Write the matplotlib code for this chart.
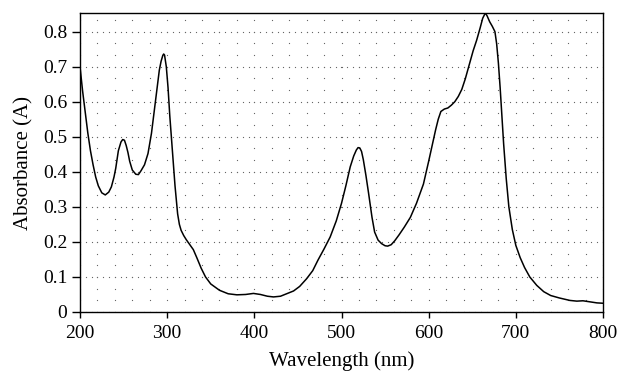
import matplotlib.pyplot as plt
import numpy as np

# spectrum
wavelength = [200, 203, 205, 209, 212, 215, 218, 221, 225, 229, 233, 236, 239, 241, 244, 247, 249,
              251, 253, 255, 257, 260, 264, 267, 270, 274, 278, 282, 285, 288, 291, 293, 295, 296,
              297, 299, 301, 303, 306, 309, 312, 314, 316, 319, 322, 326, 330, 334, 339, 344, 350,
              360, 370, 380, 390, 399, 407, 415, 422, 430, 437, 445, 452, 460, 467, 473, 480, 487,
              494, 500, 505, 510, 514, 517, 519, 521, 523, 525, 528, 531, 535, 538, 542, 546, 550,
              553, 557, 561, 566, 572, 579, 586, 594, 600, 604, 608, 611, 614, 618, 622, 626, 630,
              634, 638, 642, 647, 651, 655, 659, 662, 665, 667, 670, 673, 676, 678, 680, 682, 684,
              686, 689, 692, 696, 700, 705, 710, 716, 724, 732, 740, 750, 762, 770, 777, 785, 793,
              800]
absorbance = [0.70, 0.63, 0.59, 0.51, 0.46, 0.42, 0.385, 0.36, 0.34, 0.334, 0.342, 0.357, 0.385,
              0.41, 0.46, 0.485, 0.492, 0.49, 0.475, 0.455, 0.43, 0.405, 0.393, 0.392, 0.403, 0.42,
              0.452, 0.51, 0.57, 0.63, 0.69, 0.715, 0.732, 0.736, 0.733, 0.70, 0.64, 0.56, 0.46,
              0.36, 0.28, 0.25, 0.233, 0.218, 0.206, 0.192, 0.178, 0.155, 0.125, 0.10, 0.08, 0.062,
              0.052, 0.049, 0.05, 0.053, 0.05, 0.045, 0.043, 0.045, 0.052, 0.06, 0.073, 0.095,
              0.118, 0.148, 0.18, 0.214, 0.26, 0.31, 0.36, 0.414, 0.445, 0.462, 0.469, 0.468,
              0.458, 0.435, 0.39, 0.34, 0.27, 0.228, 0.205, 0.195, 0.189, 0.188, 0.192, 0.203,
              0.22, 0.242, 0.27, 0.31, 0.365, 0.43, 0.475, 0.52, 0.55, 0.572, 0.579, 0.582, 0.59,
              0.60, 0.615, 0.635, 0.665, 0.71, 0.745, 0.775, 0.81, 0.838, 0.853, 0.845, 0.828,
              0.815, 0.80, 0.765, 0.71, 0.64, 0.56, 0.48, 0.38, 0.30, 0.235, 0.19, 0.155, 0.127,
              0.10, 0.076, 0.058, 0.047, 0.04, 0.033, 0.031, 0.032, 0.029, 0.026, 0.025]

xticks = [200, 300, 400, 500, 600, 700, 800]
yticks = [0, 0.1, 0.2, 0.3, 0.4, 0.5, 0.6, 0.7, 0.8]
ytick_labels = ["0", "0.1", "0.2", "0.3", "0.4", "0.5", "0.6", "0.7", "0.8"]

plt.rcParams['font.family'] = ['Liberation Serif', 'DejaVu Serif']

fig, ax = plt.subplots(figsize=(6.19, 3.74), dpi=100)
fig.subplots_adjust(left=80 / 619, right=603 / 619, top=1 - 13 / 374, bottom=1 - 312 / 374)

# dotted background grid
gx, gy = np.meshgrid(np.arange(200, 801, 20), np.arange(0, 0.86, 0.1 / 3))
ax.plot(gx.ravel(), gy.ravel(), linestyle='none', marker='s', markersize=0.8,
        color='#666666', markeredgewidth=0, zorder=1)
mx, my = np.meshgrid(np.arange(200, 801, 20 / 3), np.arange(0, 0.85, 0.1))
ax.plot(mx.ravel(), my.ravel(), linestyle='none', marker='s', markersize=0.8,
        color='#666666', markeredgewidth=0, zorder=1)

ax.plot(wavelength, absorbance, color='black', linewidth=1.1, zorder=3)

ax.set_xlim(200, 800)
ax.set_ylim(0, 0.853)
ax.set_xticks(xticks)
ax.set_yticks(yticks)
ax.set_yticklabels(ytick_labels)
ax.tick_params(axis='both', labelsize=14, direction='out', width=1, colors='black')
ax.tick_params(axis='y', length=6, pad=3)
ax.tick_params(axis='x', length=4, pad=5)
for s in ax.spines.values():
    s.set_linewidth(1.0)

ax.set_xlabel("Wavelength (nm)", fontsize=15, labelpad=7)
ax.set_ylabel("Absorbance (A)", fontsize=15, labelpad=7)

fig.savefig("out.png", dpi=100)
